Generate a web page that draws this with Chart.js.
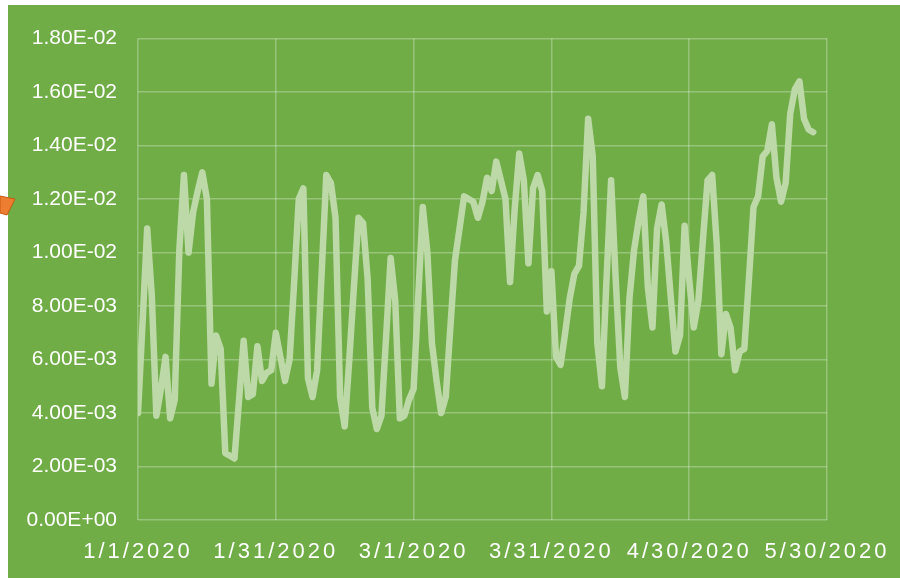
<!DOCTYPE html>
<html>
<head>
<meta charset="utf-8">
<title>Daily values, Jan–May 2020</title>
<script src="https://cdn.jsdelivr.net/npm/chart.js@4.4.1/dist/chart.umd.min.js"></script>
<style>
  html, body { margin: 0; padding: 0; background: #ffffff; }
  body { width: 900px; height: 578px; position: relative; overflow: hidden; }
  #chart-wrap {
    position: absolute; left: 8px; top: 5px; width: 892px; height: 573px;
    background: #70ad47;
  }
  #arrow { position: absolute; left: 0; top: 194px; }
</style>
</head>
<body>
<div id="chart-wrap"><canvas id="chart"></canvas></div>
<svg id="arrow" width="18" height="24" viewBox="0 0 18 24">
  <polygon points="0,2 15,5 7,21 0,19" fill="#ed7d31" stroke="#c55a11" stroke-width="1"/>
</svg>
<script>
"use strict";

/* ── Data ─────────────────────────────────────────────────── */
// one value per day, day 0 = 1/1/2020
const dayValues = [
  0.0040, 0.0074, 0.0109, 0.0084, 0.0039, 0.0049, 0.0061, 0.0038, 0.0045, 0.0101,
  0.0129, 0.0100, 0.0115, 0.0123, 0.0130, 0.0120, 0.0051, 0.0069, 0.0064, 0.0025,
  0.0024, 0.0023, 0.0045, 0.0067, 0.0046, 0.0047, 0.0065, 0.0052, 0.0055, 0.0056,
  0.0070, 0.0061, 0.0052, 0.0060, 0.0089, 0.0120, 0.0124, 0.0053, 0.0046, 0.0056,
  0.0093, 0.0129, 0.0126, 0.0113, 0.0046, 0.0035, 0.0060, 0.0087, 0.0113, 0.0111,
  0.0090, 0.0042, 0.0034, 0.0039, 0.0068, 0.0098, 0.0082, 0.0038, 0.0039, 0.0045,
  0.0049, 0.0083, 0.0117, 0.0100, 0.0066, 0.0052, 0.0040, 0.0046, 0.0072, 0.0097,
  0.0109, 0.0121, 0.0120, 0.0119, 0.0113, 0.0119, 0.0128, 0.0123, 0.0134, 0.0127,
  0.0120, 0.0089, 0.0116, 0.0137, 0.0127, 0.0096, 0.0124, 0.0129, 0.0123, 0.0078,
  0.0093, 0.0061, 0.0058, 0.0070, 0.0083, 0.0092, 0.0095, 0.0115, 0.0150, 0.0136,
  0.0066, 0.0050, 0.0090, 0.0127, 0.0090, 0.0057, 0.0046, 0.0083, 0.0101, 0.0112,
  0.0121, 0.0087, 0.0072, 0.0109, 0.0118, 0.0104, 0.0083, 0.0063, 0.0069, 0.0110,
  0.0090, 0.0072, 0.0082, 0.0105, 0.0127, 0.0129, 0.0103, 0.0062, 0.0077, 0.0072,
  0.0056, 0.0063, 0.0064, 0.0090, 0.0117, 0.0121, 0.0136, 0.0138, 0.0148, 0.0128,
  0.0119, 0.0126, 0.0152, 0.0161, 0.0164, 0.0150, 0.0146, 0.0145
];

const xTickLabels = ["1/1/2020", "1/31/2020", "3/1/2020", "3/31/2020", "4/30/2020", "5/30/2020"];
const xTickStepDays = 30;

const yMin = 0;
const yMax = 0.018;
const yStep = 0.002;

/* ── Scale with letter-spaced labels ──────────────────────── */
class SpacedLinearScale extends Chart.LinearScale {
  drawLabels(area) {
    const ctx = this.ctx;
    ctx.save();
    ctx.letterSpacing = "3px";
    super.drawLabels(area);
    ctx.restore();
  }
}
SpacedLinearScale.id = "spacedLinear";
SpacedLinearScale.defaults = Chart.LinearScale.defaults;
Chart.register(SpacedLinearScale);

/* ── Helpers ──────────────────────────────────────────────── */
function sci(v) {
  const [m, e] = Number(v).toExponential(2).split("e");
  const n = Math.abs(parseInt(e, 10));
  return m + "E" + (e[0] === "-" ? "-" : "+") + String(n).padStart(2, "0");
}

const points = dayValues.map((v, i) => ({ x: i, y: v }));
const gridColor = "rgba(255,255,255,0.28)";

/* ── Chart ────────────────────────────────────────────────── */
new Chart(document.getElementById("chart").getContext("2d"), {
  type: "line",
  data: {
    datasets: [{
      data: points,
      borderColor: "#bcd9a7",
      borderWidth: 6.5,
      borderJoinStyle: "round",
      borderCapStyle: "round",
      pointRadius: 0,
      tension: 0,
      fill: false,
    }],
  },
  options: {
    responsive: true,
    maintainAspectRatio: false,
    animation: false,
    layout: { padding: { left: 0, right: 73, top: 30, bottom: 0 } },
    plugins: {
      legend: { display: false },
      tooltip: { enabled: false },
    },
    scales: {
      x: {
        type: "spacedLinear",
        min: 0,
        max: xTickStepDays * (xTickLabels.length - 1),
        afterFit: (s) => { s.height = 58; },
        afterBuildTicks: (s) => {
          s.ticks = xTickLabels.map((_, i) => ({ value: i * xTickStepDays }));
        },
        ticks: {
          color: "#ffffff",
          font: { family: "'Liberation Sans', Arial, sans-serif", size: 22 },
          padding: 19,
          maxRotation: 0,
          autoSkip: false,
          callback: (v, i) => xTickLabels[i],
        },
        grid: { color: gridColor, lineWidth: 1.5, drawTicks: false },
        border: { display: false },
      },
      y: {
        min: yMin,
        max: yMax,
        afterFit: (s) => { s.width = 130; },
        ticks: {
          stepSize: yStep,
          color: "#ffffff",
          font: { family: "'Liberation Sans', Arial, sans-serif", size: 21 },
          padding: 21,
          callback: (v) => sci(v),
        },
        grid: { color: gridColor, lineWidth: 1.5, drawTicks: false },
        border: { display: false },
      },
    },
  },
});
</script>
</body>
</html>
